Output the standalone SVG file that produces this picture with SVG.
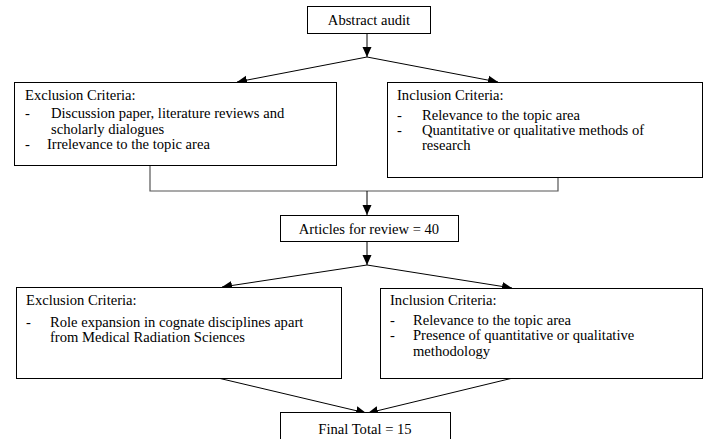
<svg xmlns="http://www.w3.org/2000/svg" width="708" height="439" viewBox="0 0 708 439">
<style>
.box{fill:#fff;stroke:#000;stroke-width:1}
.t{font-family:"Liberation Serif","Times New Roman",serif;font-size:14.6px;fill:#000}
.c{text-anchor:middle}
.ln{fill:none;stroke:#000;stroke-width:1}
.gl{fill:none;stroke:#555;stroke-width:1.2}
</style>
<defs>
<marker id="ah" viewBox="0 0 10 10" refX="10" refY="5" markerWidth="10" markerHeight="10" markerUnits="userSpaceOnUse" orient="auto">
<path d="M0,0.5 L10,5 L0,9.5 Z" fill="#000"/>
</marker>
</defs>
<rect width="708" height="439" fill="#fff"/>
<g id="connectors">
<line class="ln" x1="367" y1="33" x2="367" y2="57" marker-end="url(#ah)"/>
<line class="ln" x1="367" y1="57" x2="237" y2="82" marker-end="url(#ah)"/>
<line class="ln" x1="367" y1="57" x2="498" y2="82" marker-end="url(#ah)"/>
<polyline class="gl" points="150,165 150,191 558,191 558,177"/>
<line class="ln" x1="367" y1="191" x2="367" y2="215" marker-end="url(#ah)"/>
<line class="ln" x1="367" y1="241" x2="367" y2="265" marker-end="url(#ah)"/>
<line class="ln" x1="367" y1="265" x2="222" y2="287" marker-end="url(#ah)"/>
<line class="ln" x1="367" y1="265" x2="512" y2="288" marker-end="url(#ah)"/>
<line class="ln" x1="218" y1="378" x2="366" y2="413" marker-end="url(#ah)"/>
<line class="ln" x1="513" y1="378" x2="368" y2="413" marker-end="url(#ah)"/>
</g>
<g id="abstract-audit">
<rect class="box" x="307.5" y="6.5" width="123" height="27"/>
<text class="t c" x="369" y="25">Abstract audit</text>
</g>
<g id="exclusion-1">
<rect class="box" x="14.5" y="82.5" width="322" height="83"/>
<text class="t" x="25" y="100">Exclusion Criteria:</text>
<text class="t" x="25" y="118">-</text>
<text class="t" x="51" y="118">Discussion paper, literature reviews and</text>
<text class="t" x="51" y="134">scholarly dialogues</text>
<text class="t" x="25" y="149">-</text>
<text class="t" x="47" y="149">Irrelevance to the topic area</text>
</g>
<g id="inclusion-1">
<rect class="box" x="387.5" y="82.5" width="315" height="95"/>
<text class="t" x="397" y="100">Inclusion Criteria:</text>
<text class="t" x="397" y="120">-</text>
<text class="t" x="422" y="120">Relevance to the topic area</text>
<text class="t" x="397" y="135">-</text>
<text class="t" x="422" y="135">Quantitative or qualitative methods of</text>
<text class="t" x="422" y="150">research</text>
</g>
<g id="articles">
<rect class="box" x="280.5" y="215.5" width="178" height="26"/>
<text class="t c" x="369" y="234">Articles for review = 40</text>
</g>
<g id="exclusion-2">
<rect class="box" x="16.5" y="287.5" width="325" height="91"/>
<text class="t" x="26" y="305">Exclusion Criteria:</text>
<text class="t" x="26" y="327">-</text>
<text class="t" x="50" y="327">Role expansion in cognate disciplines apart</text>
<text class="t" x="50" y="342">from Medical Radiation Sciences</text>
</g>
<g id="inclusion-2">
<rect class="box" x="380.5" y="288.5" width="322" height="90"/>
<text class="t" x="390" y="305">Inclusion Criteria:</text>
<text class="t" x="390" y="325">-</text>
<text class="t" x="413" y="325">Relevance to the topic area</text>
<text class="t" x="390" y="340">-</text>
<text class="t" x="413" y="340">Presence of quantitative or qualitative</text>
<text class="t" x="413" y="356">methodology</text>
</g>
<g id="final-total">
<rect class="box" x="280.5" y="412.5" width="170" height="40"/>
<text class="t c" x="365" y="434">Final Total = 15</text>
</g>
</svg>
